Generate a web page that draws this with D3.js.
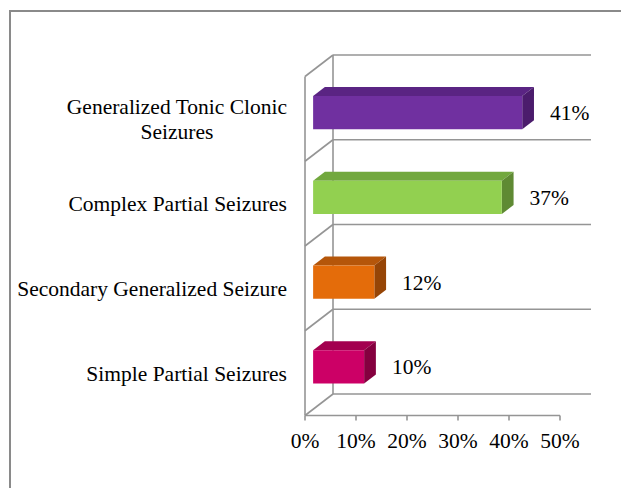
<!DOCTYPE html>
<html>
<head>
<meta charset="utf-8">
<script src="https://cdn.jsdelivr.net/npm/d3@7"></script>
<style>
  body { margin: 0; background: #fff; }
  text { font-family: "Liberation Serif", "Times New Roman", serif; fill: #000; }
</style>
</head>
<body>
<div id="chart"></div>
<script>
// Seizure types, top to bottom
let categories = [
  ["Generalized Tonic Clonic", "Seizures"],
  ["Complex Partial Seizures"],
  ["Secondary Generalized Seizure"],
  ["Simple Partial Seizures"]
];
let values = [0.41, 0.37, 0.12, 0.10];
let valueLabels = ["41%", "37%", "12%", "10%"];
let ticks = [0, 0.1, 0.2, 0.3, 0.4, 0.5];
let frontColors = ["#7030a0", "#92d050", "#e46c0a", "#cc0066"];
let topColors = ["#5a2483", "#72a83e", "#b5560a", "#a3004f"];
let sideColors = ["#4b1c6c", "#5f8a33", "#964506", "#85003f"];

let width = 621;
let height = 488;
let fontSize = 21.5;
let gridColor = "#959595";

// depth of the 3d box: front plane is shifted by (-28, +21.5) from the back wall
let depthX = -28;
let depthY = 21.5;
let barNear = 0.71;  // bar front face, fraction of depth from back wall
let barFar = 0.29;   // bar back face
let barSize = 0.39;  // bar thickness as part of the band

let svg = d3.select("#chart").append("svg")
  .attr("width", width)
  .attr("height", height);

// Outer frame
svg.append("rect")
  .attr("x", 10).attr("y", 11)
  .attr("width", 700).attr("height", 600)
  .attr("fill", "none")
  .attr("stroke", "#8a8a8a")
  .attr("stroke-width", 2);

// Scales on the back wall
let x = d3.scaleLinear().domain([0, 0.5]).range([333, 588]);
let y = d3.scaleBand().domain(d3.range(categories.length)).range([55, 394]);

// project a back-wall point towards the front by fraction f
const proj = (px, py, f) => [px + depthX * f, py + depthY * f];

let walls = svg.append("g")
  .attr("stroke", gridColor)
  .attr("stroke-width", 1.6)
  .attr("fill", "none");

let bounds = d3.range(categories.length + 1).map(i => y.range()[0] + i * y.bandwidth());

// back wall gridlines
walls.selectAll("line.grid")
  .data(bounds)
  .enter().append("line")
  .attr("x1", x(0)).attr("x2", x(0.5) + 3)
  .attr("y1", d => d).attr("y2", d => d);

// back wall left edge
walls.append("line")
  .attr("x1", x(0)).attr("x2", x(0))
  .attr("y1", bounds[0]).attr("y2", bounds[bounds.length - 1]);

// side wall diagonals
walls.selectAll("line.diag")
  .data(bounds)
  .enter().append("line")
  .attr("x1", x(0)).attr("y1", d => d)
  .attr("x2", x(0) + depthX).attr("y2", d => d + depthY);

// side wall front edge
walls.append("line")
  .attr("x1", x(0) + depthX).attr("x2", x(0) + depthX)
  .attr("y1", bounds[0] + depthY).attr("y2", bounds[bounds.length - 1] + depthY);

// front axis
let axisY = bounds[bounds.length - 1] + depthY;
walls.append("line")
  .attr("x1", x(0) + depthX).attr("x2", x(0.5) + depthX)
  .attr("y1", axisY).attr("y2", axisY);

walls.selectAll("line.tick")
  .data(ticks)
  .enter().append("line")
  .attr("x1", d => x(d) + depthX).attr("x2", d => x(d) + depthX)
  .attr("y1", axisY).attr("y2", axisY + 5);

svg.selectAll("text.tick")
  .data(ticks)
  .enter().append("text")
  .attr("x", d => x(d) + depthX)
  .attr("y", axisY + 32)
  .attr("text-anchor", "middle")
  .style("font-size", fontSize + "px")
  .text(d => d3.format(".0%")(d));

// Bars
let bars = svg.selectAll("g.bar")
  .data(values)
  .enter().append("g")
  .attr("class", "bar");

const barGeom = (v, i) => {
  let cy = y(i) + y.bandwidth() / 2;
  let h = y.bandwidth() * barSize;
  let x0 = x(0), x1 = x(v);
  return {
    nTL: proj(x0, cy - h / 2, barNear), nTR: proj(x1, cy - h / 2, barNear),
    nBR: proj(x1, cy + h / 2, barNear), nBL: proj(x0, cy + h / 2, barNear),
    fTL: proj(x0, cy - h / 2, barFar), fTR: proj(x1, cy - h / 2, barFar),
    fBR: proj(x1, cy + h / 2, barFar)
  };
};

const poly = pts => "M" + pts.map(p => p.join(",")).join("L") + "Z";

bars.append("path")
  .attr("d", (v, i) => { let g = barGeom(v, i); return poly([g.nTL, g.nTR, g.fTR, g.fTL]); })
  .attr("fill", (v, i) => topColors[i]);

bars.append("path")
  .attr("d", (v, i) => { let g = barGeom(v, i); return poly([g.nTR, g.fTR, g.fBR, g.nBR]); })
  .attr("fill", (v, i) => sideColors[i]);

bars.append("path")
  .attr("d", (v, i) => { let g = barGeom(v, i); return poly([g.nTL, g.nTR, g.nBR, g.nBL]); })
  .attr("fill", (v, i) => frontColors[i]);

// value labels
bars.append("text")
  .attr("x", (v, i) => barGeom(v, i).fTR[0] + 16)
  .attr("y", (v, i) => { let g = barGeom(v, i); return (g.nTR[1] + g.nBR[1]) / 2; })
  .attr("dy", "0.35em")
  .style("font-size", fontSize + "px")
  .text((v, i) => valueLabels[i]);

// category labels: block right-aligned, lines centred within the block
let labelRight = 287;
categories.forEach((lines, i) => {
  let cy = y(i) + y.bandwidth() / 2 + depthY;
  let g = svg.append("g");
  let lineH = 25;
  let texts = lines.map((s, j) => g.append("text")
    .attr("y", cy + (j - (lines.length - 1) / 2) * lineH)
    .attr("dy", "0.35em")
    .style("font-size", fontSize + "px")
    .text(s));
  let w = d3.max(texts, t => t.node().getComputedTextLength());
  texts.forEach(t => t.attr("x", labelRight - w / 2).attr("text-anchor", "middle"));
});
</script>
</body>
</html>
